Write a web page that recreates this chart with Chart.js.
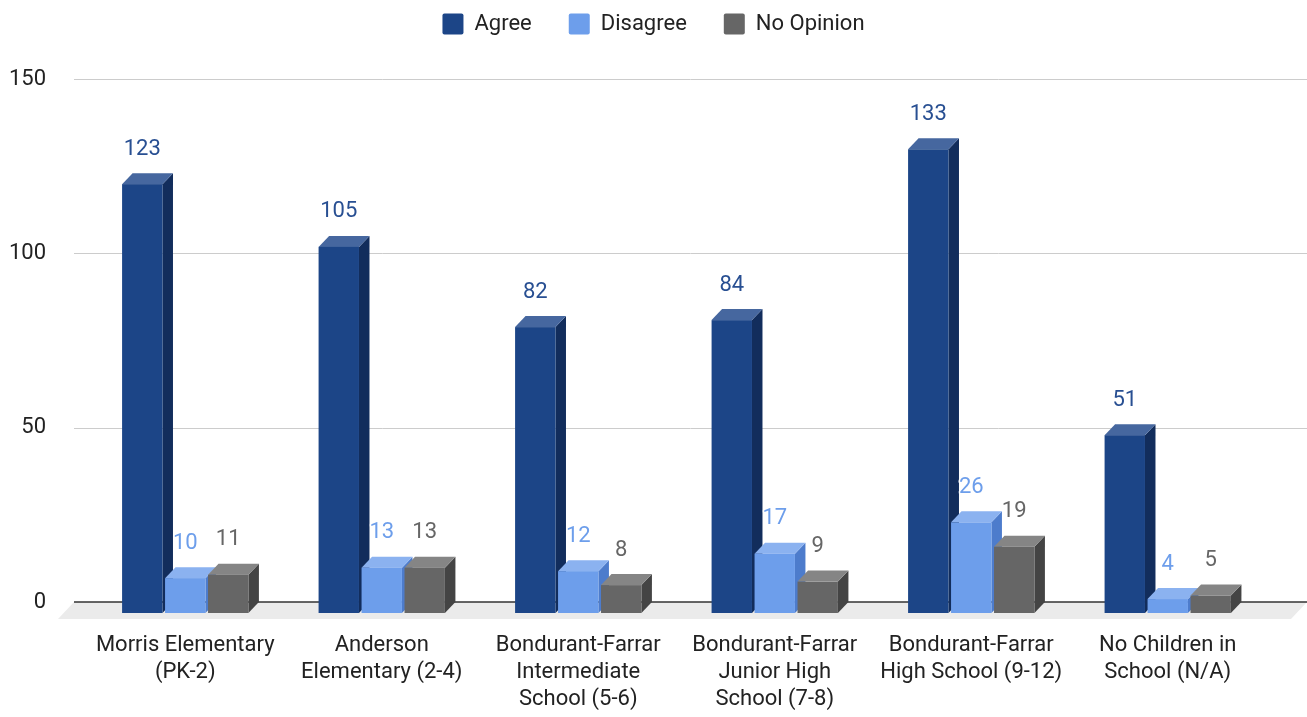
<!DOCTYPE html>
<html>
<head>
<meta charset="utf-8">
<script src="https://cdn.jsdelivr.net/npm/chart.js@4.4.1/dist/chart.umd.min.js"></script>
<style>
  html, body { margin: 0; padding: 0; background: #fff; }
  canvas { display: block; }
</style>
</head>
<body>
<canvas id="chart" width="1307" height="717"></canvas>
<script>
// Kategoriler (x ekseni, çok satırlı etiketler)
const categories = [
    ["Morris Elementary", "(PK-2)"],
    ["Anderson", "Elementary (2-4)"],
    ["Bondurant-Farrar", "Intermediate", "School (5-6)"],
    ["Bondurant-Farrar", "Junior High", "School (7-8)"],
    ["Bondurant-Farrar", "High School (9-12)"],
    ["No Children in", "School (N/A)"]
];

// Seri değerleri
const agree = [123, 105, 82, 84, 133, 51];
const disagree = [10, 13, 12, 17, 26, 4];
const noOpinion = [11, 13, 8, 9, 19, 5];

// y ekseni
const yTicks = [0, 50, 100, 150];

// 3B görünüm için renkler: ön yüz, üst yüz, yan yüz, etiket
const faces = [
    { front: "#1c4587", top: "#46679f", side: "#122d5c", label: "#284f92" },
    { front: "#6d9eeb", top: "#8bb2f0", side: "#4d7ccc", label: "#6d9eeb" },
    { front: "#666666", top: "#858585", side: "#444444", label: "#666666" }
];

const DX = 10.5;   // derinlik (yatay)
const DY = 11;     // derinlik (dikey)
const FONT = "Roboto, 'Noto Sans', sans-serif";
const FS = 22;

// Izgarayı, zemini, 3B çubukları ve değer etiketlerini çizen eklenti
const bars3d = {
    id: "bars3d",
    beforeLayout(chart) {
        // Lejant yüksekliğini sabitle ki grafik alanı doğru yerden başlasın
        const legend = chart.legend;
        if (legend && !legend._fixedFit) {
            const origFit = legend.fit;
            legend.fit = function () {
                origFit.call(this);
                this.height = 103;
            };
            legend._fixedFit = true;
        }
    },
    beforeDatasetsDraw(chart) {
        const ctx = chart.ctx;
        const yScale = chart.scales.y;
        const left = 74, right = 1307;
        const y0 = yScale.getPixelForValue(0);

        ctx.save();

        // ızgara çizgileri
        ctx.strokeStyle = "#cccccc";
        ctx.lineWidth = 1;
        yTicks.forEach(v => {
            if (v === 0) return;
            const py = Math.round(yScale.getPixelForValue(v)) + 0.5;
            ctx.beginPath();
            ctx.moveTo(left, py);
            ctx.lineTo(right, py);
            ctx.stroke();
        });

        // zemin
        ctx.fillStyle = "#ebebeb";
        ctx.beginPath();
        ctx.moveTo(left, y0);
        ctx.lineTo(right, y0);
        ctx.lineTo(right - 16, y0 + 17);
        ctx.lineTo(left - 16, y0 + 17);
        ctx.closePath();
        ctx.fill();

        // sıfır çizgisi
        ctx.strokeStyle = "#333333";
        ctx.lineWidth = 1.5;
        ctx.beginPath();
        ctx.moveTo(left, y0);
        ctx.lineTo(right, y0);
        ctx.stroke();

        // çubuklar
        const metas = chart.data.datasets.map((d, i) => chart.getDatasetMeta(i));
        for (let j = 0; j < categories.length; j++) {
            metas.forEach((meta, i) => {
                const bar = meta.data[j];
                const c = faces[i];
                const fl = bar.x - bar.width / 2;
                const fr = bar.x + bar.width / 2;
                const ft = bar.y + DY;
                const fb = bar.base + DY;

                // yan yüz
                ctx.fillStyle = c.side;
                ctx.beginPath();
                ctx.moveTo(fr, ft);
                ctx.lineTo(fr + DX, ft - DY);
                ctx.lineTo(fr + DX, fb - DY);
                ctx.lineTo(fr, fb);
                ctx.closePath();
                ctx.fill();

                // üst yüz
                ctx.fillStyle = c.top;
                ctx.beginPath();
                ctx.moveTo(fl, ft);
                ctx.lineTo(fl + DX, ft - DY);
                ctx.lineTo(fr + DX, ft - DY);
                ctx.lineTo(fr, ft);
                ctx.closePath();
                ctx.fill();

                // ön yüz
                ctx.fillStyle = c.front;
                ctx.fillRect(fl, ft, fr - fl, fb - ft);
            });
        }

        // değer etiketleri
        ctx.font = FS + "px " + FONT;
        ctx.textAlign = "center";
        ctx.textBaseline = "middle";
        ctx.lineJoin = "round";
        metas.forEach((meta, i) => {
            const values = chart.data.datasets[i].data;
            meta.data.forEach((bar, j) => {
                const ty = bar.y - 24;
                ctx.strokeStyle = "#ffffff";
                ctx.lineWidth = 3;
                ctx.strokeText(String(values[j]), bar.x, ty);
                ctx.fillStyle = faces[i].label;
                ctx.fillText(String(values[j]), bar.x, ty);
            });
        });

        ctx.restore();
        return false;   // Chart.js'in düz çubuklarını çizme
    }
};

new Chart(document.getElementById("chart"), {
    type: "bar",
    data: {
        labels: categories,
        datasets: [
            { label: "Agree", data: agree, backgroundColor: faces[0].front, borderWidth: 0 },
            { label: "Disagree", data: disagree, backgroundColor: faces[1].front, borderWidth: 0 },
            { label: "No Opinion", data: noOpinion, backgroundColor: faces[2].front, borderWidth: 0 }
        ]
    },
    plugins: [bars3d],
    options: {
        responsive: false,
        animation: false,
        layout: { padding: { top: -24, left: 0, right: 0, bottom: 0 } },
        datasets: {
            bar: { categoryPercentage: 0.656, barPercentage: 0.94 }
        },
        plugins: {
            legend: {
                display: true,
                position: "top",
                labels: {
                    boxWidth: 21,
                    boxHeight: 21,
                    padding: 37,
                    useBorderRadius: true,
                    borderRadius: 2,
                    color: "#222222",
                    font: { family: FONT, size: FS }
                }
            },
            tooltip: { enabled: false }
        },
        scales: {
            x: {
                grid: { display: false, drawTicks: false },
                border: { display: false },
                ticks: {
                    autoSkip: false,
                    maxRotation: 0,
                    minRotation: 0,
                    padding: 30,
                    color: "#222222",
                    font: { family: FONT, size: FS, lineHeight: 1.23 }
                },
                afterFit(scale) { scale.height = 115; }
            },
            y: {
                min: 0,
                max: 150,
                grid: { display: false, drawTicks: false },
                border: { display: false },
                ticks: {
                    stepSize: 50,
                    padding: 41,
                    color: "#222222",
                    font: { family: FONT, size: FS }
                },
                afterFit(scale) { scale.width = 87; }
            },
            y2: {
                type: "linear",
                position: "right",
                display: true,
                grid: { display: false, drawTicks: false },
                border: { display: false },
                ticks: { display: false },
                afterFit(scale) { scale.width = 41; }
            }
        }
    }
});
</script>
</body>
</html>
